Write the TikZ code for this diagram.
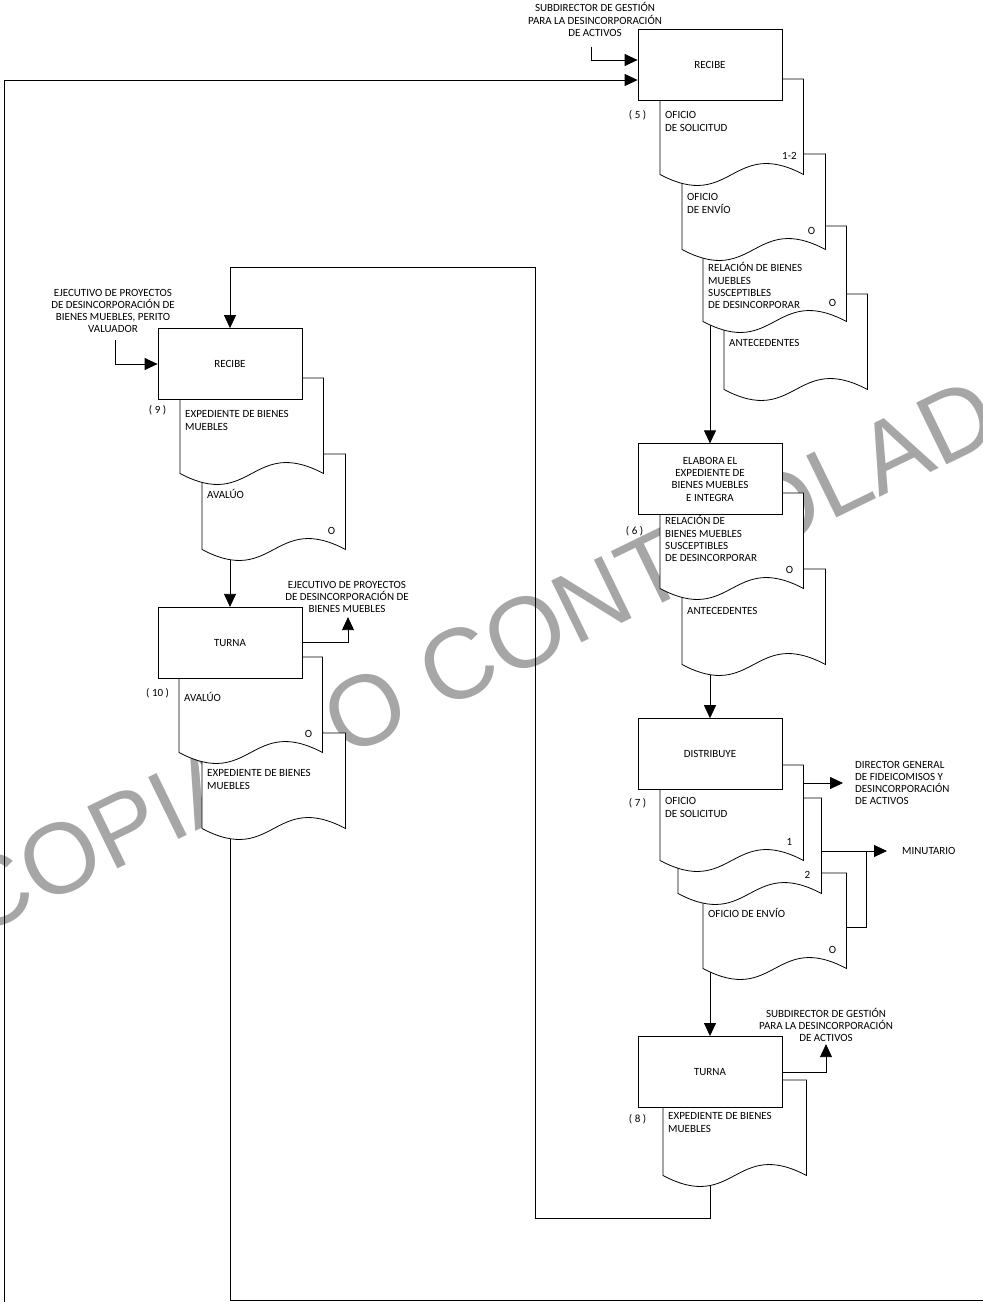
\documentclass[tikz,border=0pt]{standalone}
\usepackage{fontspec}
\setmainfont{Carlito}
\newfontfamily\marcafont{Liberation Sans}
\usetikzlibrary{arrows.meta,positioning,calc}
\definecolor{marcagris}{RGB}{166,166,166}
\pgfdeclarelayer{marca}
\pgfdeclarelayer{fondo}
\pgfsetlayers{marca,fondo,main}

% hoja con borde ondulado: nombre, esquina, altura del texto, texto, marca
\newcommand{\documento}[5]{%
  \begin{scope}[shift={#2}]
    \draw[doc] (0,0) -- (143.5,0) -- (143.5,95.5)
      .. controls (71.75,57.5) and (71.75,133.5) .. (0,95.5) -- cycle;
    \coordinate (#1 b) at (0,95.5);
    \coordinate (#1 ne) at (143.5,0);
    \node[txtdoc] (#1) at (5,#3) {\rule{0pt}{9.5pt}#4};
    \if\relax\detokenize{#5}\relax\else
      \node[copia] (#1 m) at (129.5,77) {#5};
    \fi
  \end{scope}}

\begin{document}
\begin{tikzpicture}[x=1pt, y=-1pt, >={Triangle[length=13pt,width=12pt]},
  font=\fontsize{11}{12.3}\selectfont,
  caja/.style={draw, fill=white, line width=0.8pt, minimum width=144pt, minimum height=71pt, align=center, inner sep=2pt},
  doc/.style={draw, fill=white, line width=0.8pt},
  txtdoc/.style={anchor=north west, align=left, inner sep=0pt},
  copia/.style={inner sep=0pt},
  num/.style={inner sep=0pt},
  etq/.style={align=center, inner sep=0pt},
  flecha/.style={->, line width=0.8pt},
  linea/.style={line width=0.8pt}]
\useasboundingbox (0,0) rectangle (983,1302);

\begin{pgfonlayer}{marca}
  \clip (0,0) rectangle (983,1302);
  \node[rotate=26, text=marcagris, inner sep=0pt, font=\marcafont\fontsize{100}{100}\selectfont] (sello) at (505,642) {COPIA NO CONTROLADA};
\end{pgfonlayer}

% hojas (de la de abajo a la de arriba)
\documento{d5d}{(724,294)}{43}{ANTECEDENTES}{}
\documento{d5c}{(703,226)}{36}{RELACIÓN DE BIENES\\MUEBLES\\SUSCEPTIBLES\\DE DESINCORPORAR}{O}
\documento{d5b}{(682,154)}{37}{OFICIO\\DE ENVÍO}{O}
\documento{d5a}{(660,79)}{30}{OFICIO\\DE SOLICITUD}{1-2}
\documento{d6b}{(682,569)}{36}{ANTECEDENTES}{}
\documento{d6a}{(660,493)}{22}{RELACIÓN DE\\BIENES MUEBLES\\SUSCEPTIBLES\\DE DESINCORPORAR}{O}
\documento{d7c}{(703,873)}{35}{OFICIO DE ENVÍO}{O}
\documento{d7b}{(678,798)}{30}{}{2}
\documento{d7a}{(660,765)}{30}{OFICIO\\DE SOLICITUD}{1}
\documento{d8a}{(663,1080)}{30}{EXPEDIENTE DE BIENES\\MUEBLES}{}
\documento{d9b}{(202,454)}{35}{AVALÚO}{O}
\documento{d9a}{(180,378)}{30}{EXPEDIENTE DE BIENES\\MUEBLES}{}
\documento{d10b}{(202,733)}{34}{EXPEDIENTE DE BIENES\\MUEBLES}{}
\documento{d10a}{(179,657)}{35}{AVALÚO}{O}

% actividades
\node[caja] (rec5) at (710,64.5) {RECIBE};
\node[caja, below=343pt of rec5] (el6) {ELABORA EL\\EXPEDIENTE DE\\BIENES MUEBLES\\E INTEGRA};
\node[caja, below=203pt of el6] (di7) {DISTRIBUYE};
\node[caja, below=246pt of di7] (tu8) {TURNA};
\node[caja] (re9) at (230,364) {RECIBE};
\node[caja, below=207pt of re9] (tu10) {TURNA};

\node[num] (n5) at ($(rec5.south west)+(0,15)$) {( 5 )};
\node[num] (n6) at ($(el6.south west)+(-3,16)$) {( 6 )};
\node[num] (n7) at ($(di7.south west)+(0,13)$) {( 7 )};
\node[num] (n8) at ($(tu8.south west)+(0,11)$) {( 8 )};
\node[num] (n9) at ($(re9.south west)+(0,10)$) {( 9 )};
\node[num] (n10) at ($(tu10.south west)+(0,15)$) {( 10 )};

% puestos
\node[etq] (sub1) at (595,19.5) {SUBDIRECTOR DE GESTIÓN\\PARA LA DESINCORPORACIÓN\\DE ACTIVOS};
\node[etq] (eje1) at (113,311) {EJECUTIVO DE PROYECTOS\\DE DESINCORPORACIÓN DE\\BIENES MUEBLES, PERITO\\VALUADOR};
\node[etq] (eje2) at (347,597) {EJECUTIVO DE PROYECTOS\\DE DESINCORPORACIÓN DE\\BIENES MUEBLES};
\node[etq, anchor=west, align=left] (dir) at (855,783) {DIRECTOR GENERAL\\DE FIDEICOMISOS Y\\DESINCORPORACIÓN\\DE ACTIVOS};
\node[etq, anchor=west] (minu) at (902,851) {MINUTARIO};
\node[etq] (sub2) at (826,1025) {SUBDIRECTOR DE GESTIÓN\\PARA LA DESINCORPORACIÓN\\DE ACTIVOS};

\begin{pgfonlayer}{fondo}
\coordinate (izq) at (4,1302);
\coordinate (giro) at (535,267);
\coordinate (fin) at (983,1300);
\draw[flecha] ($(sub1.south)+(-4,10)$) |- ($(rec5.west)+(0,-4.5)$);
\draw[flecha] (izq) |- ($(rec5.west)+(0,15.5)$);
\draw[flecha] (el6.north |- d5c b) -- (el6.north);
\draw[flecha] (di7.north |- d6b b) -- (di7.north);
\draw[flecha] ($(d7a ne)+(0,18)$) -- ($(dir.west)+(-12,0)$);
\draw[flecha] ($(d7b ne)+(0,53)$) -- ($(minu.west)+(-15,0)$);
\draw[linea] ($(d7c ne)+(0,54)$) -| ($(d7b ne)+(45,53)$);
\draw[flecha] (tu8.north |- d7c b) -- (tu8.north);
\draw[flecha] (tu8.east) -| ($(sub2.south)+(0,2)$);
\draw[flecha] (tu8.south |- d8a b) -- ($(tu8.south)+(0,111)$) -| (giro) -| (re9.north);
\draw[flecha] ($(eje1.south)+(2,7)$) |- (re9.west);
\draw[flecha] (tu10.north |- d9b b) -- (tu10.north);
\draw[flecha] (tu10.east) -| ($(eje2.south)+(1,4)$);
\draw[linea] (tu10.south |- d10b b) |- (fin);
\end{pgfonlayer}
\end{tikzpicture}
\end{document}
